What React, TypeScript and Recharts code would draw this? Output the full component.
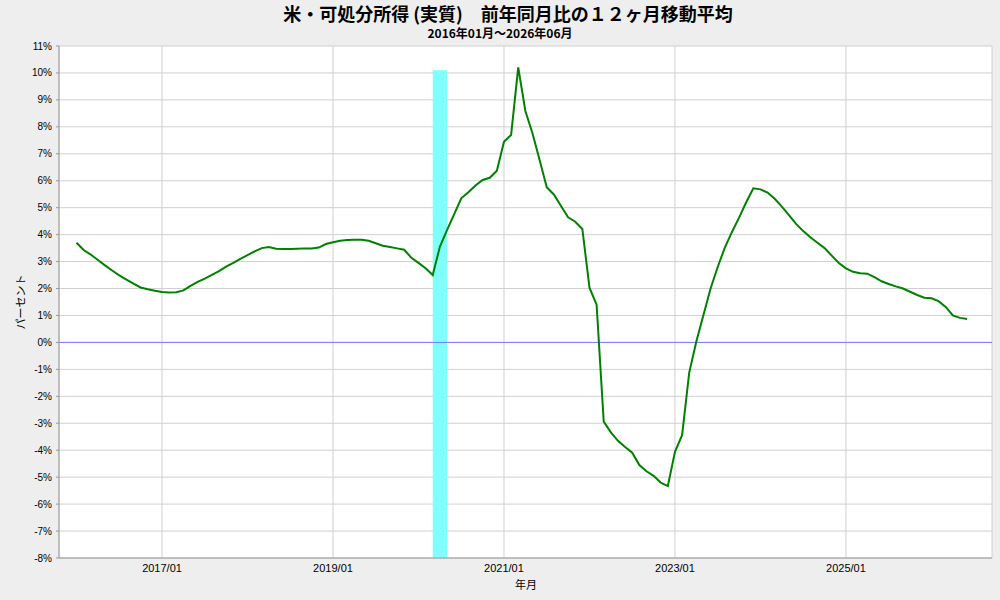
import React from "react";
import {
  LineChart,
  Line,
  XAxis,
  YAxis,
  CartesianGrid,
  ReferenceLine,
  ReferenceArea,
} from "recharts";

// Monthly index 0 = 2016/01 ... 125 = 2026/06
const startYear = 2016;
const startMonth = 1;

const values: number[] = [
  3.7, 3.43, 3.26, 3.06, 2.86, 2.67, 2.49, 2.33, 2.18, 2.04,
  1.97, 1.92, 1.87, 1.85, 1.86, 1.93, 2.1, 2.25, 2.37, 2.51,
  2.65, 2.81, 2.95, 3.1, 3.24, 3.38, 3.5, 3.54, 3.48, 3.47,
  3.47, 3.48, 3.49, 3.49, 3.52, 3.65, 3.72, 3.77, 3.8, 3.81,
  3.81, 3.77, 3.68, 3.59, 3.54, 3.49, 3.44, 3.14, 2.95, 2.75,
  2.5, 3.55, 4.17, 4.75, 5.35, 5.57, 5.82, 6.03, 6.11, 6.37,
  7.45, 7.7, 10.21, 8.59, 7.76, 6.77, 5.76, 5.49, 5.06, 4.64,
  4.48, 4.21, 2.03, 1.4, -2.94, -3.34, -3.65, -3.88, -4.09, -4.55,
  -4.78, -4.95, -5.2, -5.33, -4.06, -3.44, -1.12, 0.03, 1.02, 2.0,
  2.8, 3.52, 4.1, 4.63, 5.2, 5.72, 5.68, 5.56, 5.33, 5.04,
  4.72, 4.4, 4.13, 3.9, 3.7, 3.5, 3.22, 2.95, 2.75, 2.62,
  2.57, 2.55, 2.42, 2.27, 2.17, 2.08, 2.0, 1.88, 1.76, 1.66,
  1.64, 1.53, 1.32, 1.0, 0.91, 0.87,
];

const xTickIndex: number[] = [12, 36, 60, 84, 108];
const xTickLabels: string[] = ["2017/01", "2019/01", "2021/01", "2023/01", "2025/01"];
const yTicks: number[] = [-8, -7, -6, -5, -4, -3, -2, -1, 0, 1, 2, 3, 4, 5, 6, 7, 8, 9, 10, 11];

// Recession (2020/03 - 2020/05)
const recessionStart = 50;
const recessionEnd = 52;
const recessionTop = 10.1;

const title = "米・可処分所得 (実質)　前年同月比の１２ヶ月移動平均";
const subtitle = "2016年01月～2026年06月";
const yLabel = "パーセント";
const xLabel = "年月";

const data = values.map((v, i) => {
  const m = startMonth - 1 + i;
  const y = startYear + Math.floor(m / 12);
  const mm = (m % 12) + 1;
  return { i, v, label: `${y}/${String(mm).padStart(2, "0")}` };
});

const numFont = "'Liberation Sans', Arial, sans-serif";
const cjkFont = "'Noto Sans CJK JP', 'Liberation Sans', sans-serif";

export default function App() {
  return (
    <div style={{ position: "relative", width: 1000, height: 600, background: "#eeeeee" }}>
      <style>{`body{margin:0}`}</style>
      <div
        style={{
          position: "absolute",
          left: 8,
          top: 1,
          width: 1000,
          textAlign: "center",
          fontFamily: cjkFont,
          fontWeight: "bold",
          fontSize: 18,
          lineHeight: "24px",
          color: "#000",
        }}
      >
        {title}
      </div>
      <div
        style={{
          position: "absolute",
          left: 0,
          top: 25,
          width: 1000,
          textAlign: "center",
          fontFamily: cjkFont,
          fontWeight: "bold",
          fontSize: 12,
          lineHeight: "16px",
          color: "#000",
        }}
      >
        {subtitle}
      </div>
      <div
        style={{
          position: "absolute",
          left: 20,
          top: 302,
          transform: "translate(-50%, -50%) rotate(-90deg)",
          fontFamily: cjkFont,
          fontSize: 11,
          whiteSpace: "nowrap",
          color: "#000",
        }}
      >
        {yLabel}
      </div>
      <div
        style={{
          position: "absolute",
          left: 526,
          top: 584,
          transform: "translate(-50%, -50%)",
          fontFamily: cjkFont,
          fontSize: 11,
          whiteSpace: "nowrap",
          color: "#000",
        }}
      >
        {xLabel}
      </div>
      <div style={{ position: "absolute", left: 0, top: 0 }}>
        <LineChart
          width={1000}
          height={600}
          data={data}
          margin={{ top: 46, right: 8, bottom: 12, left: 0 }}
        >
          <CartesianGrid stroke="#d0d0d0" fill="#ffffff" />
          <XAxis
            dataKey="i"
            type="number"
            domain={[-2.46, 128.5]}
            ticks={xTickIndex}
            tickFormatter={(v: number) => xTickLabels[xTickIndex.indexOf(v)] ?? ""}
            allowDataOverflow
            height={30}
            tickLine={false}
            tickSize={6}
            tickMargin={0}
            axisLine={{ stroke: "#999999" }}
            tick={{ fill: "#000", fontSize: 11, fontFamily: numFont }}
          />
          <YAxis
            type="number"
            domain={[-8, 11]}
            ticks={yTicks}
            interval={0}
            width={59}
            tickSize={3}
            tickMargin={4}
            tickLine={{ stroke: "#999999" }}
            axisLine={{ stroke: "#999999" }}
            tickFormatter={(v: number) => `${v}%`}
            tick={{ fill: "#000", fontSize: 10, fontFamily: numFont }}
          />
          <YAxis
            yAxisId="r"
            orientation="right"
            type="number"
            domain={[-8, 11]}
            width={0}
            tick={false}
            tickLine={false}
            axisLine={{ stroke: "#999999" }}
          />
          <ReferenceArea
            x1={recessionStart}
            x2={recessionEnd}
            y1={-8}
            y2={recessionTop}
            fill="#80ffff"
            fillOpacity={1}
            stroke="none"
            ifOverflow="hidden"
          />
          <ReferenceLine y={0} stroke="#7878ff" strokeWidth={1} />
          <Line
            type="linear"
            dataKey="v"
            stroke="#008000"
            strokeWidth={2}
            dot={false}
            isAnimationActive={false}
          />
        </LineChart>
      </div>
    </div>
  );
}
